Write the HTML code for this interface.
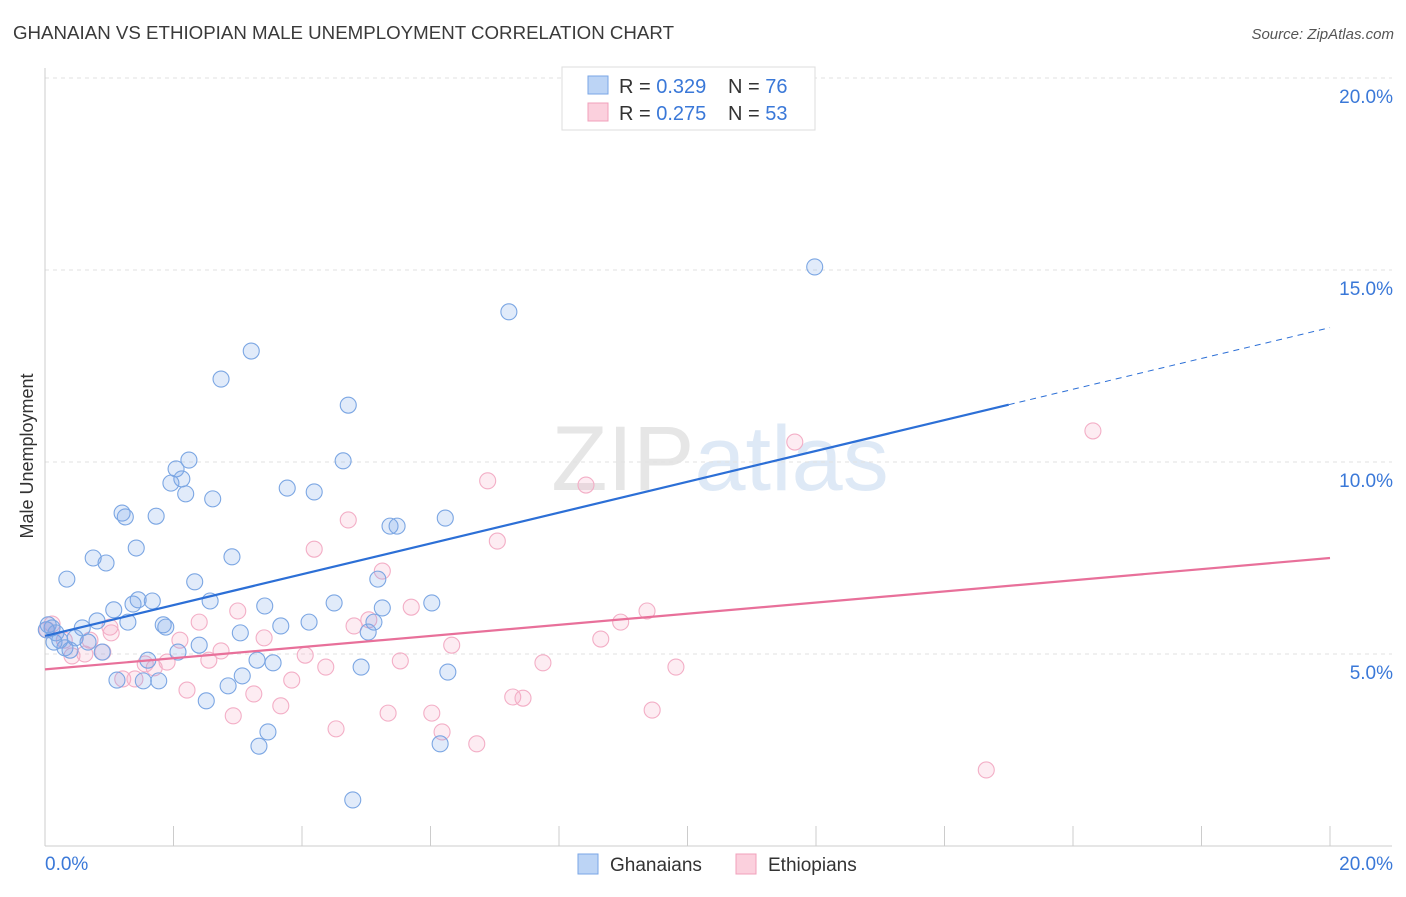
<!DOCTYPE html>
<html><head><meta charset="utf-8"><style>
body{margin:0;background:#fff;font-family:"Liberation Sans",sans-serif;}
svg text{font-family:"Liberation Sans",sans-serif;}
</style></head><body>
<svg id="chart" width="1406" height="892" xmlns="http://www.w3.org/2000/svg">
<text x="13" y="39" font-size="18" fill="#3a3a3a" textLength="661" lengthAdjust="spacingAndGlyphs">GHANAIAN VS ETHIOPIAN MALE UNEMPLOYMENT CORRELATION CHART</text>
<text x="1394" y="39" font-size="15" fill="#555" text-anchor="end" font-style="italic">Source: ZipAtlas.com</text>
<text x="720" y="490" font-size="92" fill="#e6e6e6" text-anchor="middle" font-family="Liberation Serif">ZIP<tspan fill="#dee9f6" font-family="Liberation Sans">atlas</tspan></text>
<g id="grid"></g>
<g id="axes"></g>
<g id="pts"></g>
<g id="lines"></g>
<text transform="translate(33,456) rotate(-90)" font-size="18" fill="#333" text-anchor="middle">Male Unemployment</text>
<g>
<rect x="562" y="67" width="253" height="63" fill="#fff" stroke="#ddd"/>
<rect x="588" y="76" width="20" height="18" fill="#bcd4f5" stroke="#7aa6e6"/>
<rect x="588" y="103" width="20" height="18" fill="#fbd0dd" stroke="#f0a0bb"/>
<text x="619" y="93" font-size="20" fill="#333">R = <tspan fill="#3a78d8">0.329</tspan></text>
<text x="728" y="93" font-size="20" fill="#333">N = <tspan fill="#3a78d8">76</tspan></text>
<text x="619" y="120" font-size="20" fill="#333">R = <tspan fill="#3a78d8">0.275</tspan></text>
<text x="728" y="120" font-size="20" fill="#333">N = <tspan fill="#3a78d8">53</tspan></text>
</g>
<g>
<rect x="578" y="854" width="20" height="20" fill="#bcd4f5" stroke="#7aa6e6"/>
<text x="610" y="871" font-size="19" fill="#333">Ghanaians</text>
<rect x="736" y="854" width="20" height="20" fill="#fbd0dd" stroke="#f0a0bb"/>
<text x="768" y="871" font-size="19" fill="#333">Ethiopians</text>
</g>
</svg>
<script>
const yTicks=[5,10,15,20];
const yTickLabels=["5.0%","10.0%","15.0%","20.0%"];
const xTicks=[0,2,4,6,8,10,12,14,16,18,20];
const blueX=[11.98,7.22,3.21,2.74,4.72,4.64,2.24,2.04,2.13,1.96,2.19,2.61,3.77,4.19,1.20,1.25,1.73,6.23,5.37,5.48,1.42,0.75,0.95,2.91,0.34,2.33,5.18,1.45,1.67,1.37,2.57,1.07,3.42,4.50,6.02,5.25,0.81,1.29,1.84,1.88,3.67,4.11,5.12,5.03,3.04,0.58,0.11,0.02,0.23,0.47,0.67,0.14,0.31,0.89,2.40,2.07,1.60,3.30,3.55,4.92,6.27,1.12,1.53,1.77,3.07,2.85,2.51,3.47,3.33,6.15,4.79,0.05,0.39,0.17];
const blueY=[15.08,13.91,12.89,12.16,11.48,10.03,10.05,9.82,9.56,9.45,9.17,9.04,9.32,9.22,8.67,8.57,8.59,8.54,8.33,8.33,7.76,7.50,7.37,7.53,6.95,6.88,6.95,6.41,6.38,6.30,6.38,6.15,6.25,6.33,6.33,6.20,5.86,5.83,5.76,5.70,5.73,5.83,5.83,5.57,5.55,5.68,5.68,5.63,5.36,5.42,5.31,5.31,5.16,5.05,5.23,5.05,4.84,4.84,4.77,4.66,4.53,4.32,4.30,4.30,4.43,4.17,3.78,2.97,2.60,2.66,1.20,5.76,5.10,5.55];
const pinkX=[11.67,16.31,6.89,8.42,4.72,7.04,4.19,5.25,9.37,5.70,8.96,3.00,2.40,4.81,5.04,1.01,0.11,0.03,0.30,0.70,2.10,3.41,8.65,6.33,2.74,4.05,0.90,0.42,0.62,1.03,1.90,2.55,1.70,1.56,4.37,5.53,7.75,9.82,1.21,1.40,3.84,2.21,3.25,7.28,7.44,3.67,9.45,5.34,6.02,2.93,4.53,6.18,6.72,14.65];
const pinkY=[10.52,10.81,9.51,9.40,8.49,7.94,7.73,7.16,6.12,6.22,5.83,6.12,5.83,5.73,5.89,5.70,5.78,5.63,5.36,5.36,5.36,5.42,5.39,5.23,5.08,4.97,5.05,4.95,5.00,5.55,4.79,4.84,4.64,4.74,4.66,4.82,4.77,4.66,4.35,4.35,4.32,4.06,3.96,3.88,3.85,3.65,3.54,3.46,3.46,3.39,3.05,2.97,2.66,1.98];
const blueTrend=[5.47,13.5];
const pinkTrend=[4.6,7.5];
const blueSolidEnd=15;

const X0=45,X1=1330,Y0=846,Y20=78;
const sx=v=>X0+(X1-X0)*v/20;
const sy=v=>Y0-(Y0-Y20)*v/20;
const NS="http://www.w3.org/2000/svg";
function mk(tag,attrs,parent){const e=document.createElementNS(NS,tag);for(const k in attrs)e.setAttribute(k,attrs[k]);parent.appendChild(e);return e;}
const grid=document.getElementById('grid'),axes=document.getElementById('axes'),pts=document.getElementById('pts'),lines=document.getElementById('lines');
yTicks.forEach((t,i)=>{
  const l=mk('line',{x1:X0,x2:1392,y1:sy(t),y2:sy(t),stroke:'#e2e2e2','stroke-dasharray':'4,4'},grid);
  
  
  const tx=mk('text',{x:1393,y:sy(t)+25,'font-size':19,fill:'#3a78d8','text-anchor':'end'},grid);
  tx.textContent=yTickLabels[i];
  
  
});
const ax=mk('line',{x1:X0,x2:X0,y1:68,y2:Y0,stroke:'#ccc'},axes);


const bx=mk('line',{x1:X0,x2:1392,y1:Y0,y2:Y0,stroke:'#ccc'},axes);


xTicks.forEach(t=>{
  const l=mk('line',{x1:sx(t),x2:sx(t),y1:826,y2:Y0,stroke:'#ccc'},axes);
  
  
});
const xl0=mk('text',{x:45,y:870,'font-size':19,fill:'#3a78d8'},axes);xl0.textContent='0.0%';


const xl1=mk('text',{x:1393,y:870,'font-size':19,fill:'#3a78d8','text-anchor':'end'},axes);xl1.textContent='20.0%';


pinkX.forEach((x,i)=>{
  const c=mk('circle',{cx:sx(x),cy:sy(pinkY[i]),r:8,fill:'rgba(245,170,195,0.22)',stroke:'#f3aec6','stroke-width':1.1},pts);
  
  
});
blueX.forEach((x,i)=>{
  const c=mk('circle',{cx:sx(x),cy:sy(blueY[i]),r:8,fill:'rgba(120,165,230,0.22)',stroke:'#7ba6e3','stroke-width':1.1},pts);
  
  
});
const bAt=x=>blueTrend[0]+(blueTrend[1]-blueTrend[0])*x/20;
const bl=mk('line',{x1:sx(0),y1:sy(bAt(0)),x2:sx(blueSolidEnd),y2:sy(bAt(blueSolidEnd)),stroke:'#2c6fd6','stroke-width':2.2},lines);


const bd=mk('line',{x1:sx(blueSolidEnd),y1:sy(bAt(blueSolidEnd)),x2:sx(20),y2:sy(bAt(20)),stroke:'#2c6fd6','stroke-width':1,'stroke-dasharray':'6,5'},lines);


const pl=mk('line',{x1:sx(0),y1:sy(pinkTrend[0]),x2:sx(20),y2:sy(pinkTrend[1]),stroke:'#e8709a','stroke-width':2.2},lines);


</script>
</body></html>
